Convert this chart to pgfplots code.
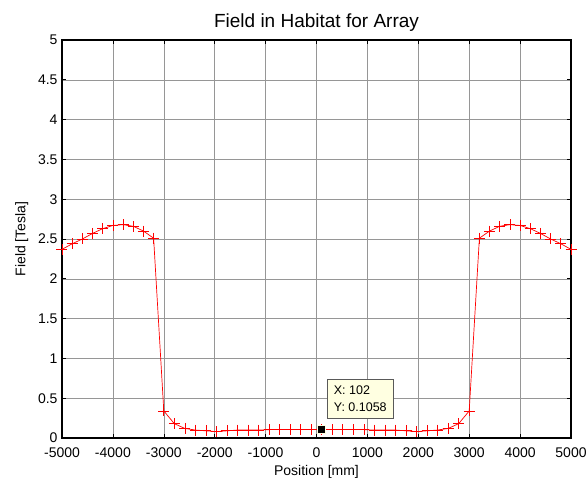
\documentclass[border=0pt]{standalone}
\usepackage{pgfplots}
\pgfplotsset{compat=1.18}
\usepackage{fontspec}
\setmainfont{Liberation Sans}
\usetikzlibrary{calc}
\definecolor{tipfill}{RGB}{255,255,225}
\definecolor{gridgray}{RGB}{150,150,150}
\begin{document}
\begin{tikzpicture}
\begin{axis}[
  scale only axis,
  width=509bp, height=398bp,
  xmin=-5000, xmax=5000, ymin=0, ymax=5,
  xtick={-5000,-4000,...,5000},
  ytick={0,0.5,...,5},
  yticklabels={0,0.5,1,1.5,2,2.5,3,3.5,4,4.5,5},
  scaled x ticks=false,
  /pgf/number format/assume math mode=true,
  tick label style={font=\fontsize{14bp}{16bp}\selectfont},
  xticklabel style={yshift=-6bp, /pgf/number format/.cd, fixed, set thousands separator={}},
  yticklabel style={xshift=-1bp},
  label style={font=\fontsize{14bp}{16bp}\selectfont},
  title style={font=\fontsize{19bp}{22bp}\selectfont, yshift=-1bp},
  title={Field in Habitat for Array},
  xlabel={Position [mm]},
  ylabel={Field [Tesla]},
  xlabel style={yshift=-1bp},
  ylabel style={yshift=3bp},
  grid=major,
  major grid style={gridgray, line width=0.5bp},
  tick align=inside,
  xtick pos=both, ytick pos=both,
  major tick length=4bp,
  tick style={black, line width=0.6bp},
  axis line style={black, line width=1.2bp},
  clip=false,
]
\addplot[red, line width=0.7bp, mark=+, mark size=5.5bp, mark options={line width=0.7bp}] coordinates {
(-5000,2.37) (-4800,2.44) (-4600,2.50) (-4400,2.57) (-4200,2.63)
(-4000,2.67) (-3800,2.68) (-3600,2.66) (-3400,2.60) (-3200,2.51)
(-3000,0.34) (-2793,0.18) (-2586,0.12) (-2379,0.10) (-2172,0.09)
(-1966,0.08) (-1759,0.09) (-1552,0.10) (-1345,0.10) (-1138,0.10)
(-931,0.105) (-724,0.105) (-517,0.105) (-310,0.106) (-103,0.106)
(102,0.1058) (310,0.106) (517,0.105) (724,0.105) (931,0.105)
(1138,0.10) (1345,0.10) (1552,0.10) (1759,0.09) (1966,0.08)
(2172,0.09) (2379,0.10) (2586,0.12) (2793,0.18) (3000,0.34)
(3200,2.51) (3400,2.60) (3600,2.66) (3800,2.68) (4000,2.67)
(4200,2.63) (4400,2.57) (4600,2.50) (4800,2.44) (5000,2.37)
};
\addplot[only marks, mark=square*, mark size=4bp, mark options={fill=black, draw=tipfill, line width=0.8bp}] coordinates {(102,0.1058)};
\node[anchor=south west, draw=gray!70!black, line width=0.5bp, fill=tipfill, inner sep=0pt,
  minimum width=66bp, minimum height=39bp] (tip) at (axis cs:200,0.25) {};
\node[anchor=west, font=\fontsize{12.5bp}{15bp}\selectfont, inner sep=0pt] at ($(tip.west)+(7bp,8bp)$) {X: 102};
\node[anchor=west, font=\fontsize{12.5bp}{15bp}\selectfont, inner sep=0pt] at ($(tip.west)+(7bp,-9bp)$) {Y: 0.1058};
\end{axis}
\pgfresetboundingbox
\path[use as bounding box] ($(current axis.south west)+(-62bp,-45bp)$) rectangle ($(current axis.north east)+(16bp,40bp)$);
\end{tikzpicture}
\end{document}
